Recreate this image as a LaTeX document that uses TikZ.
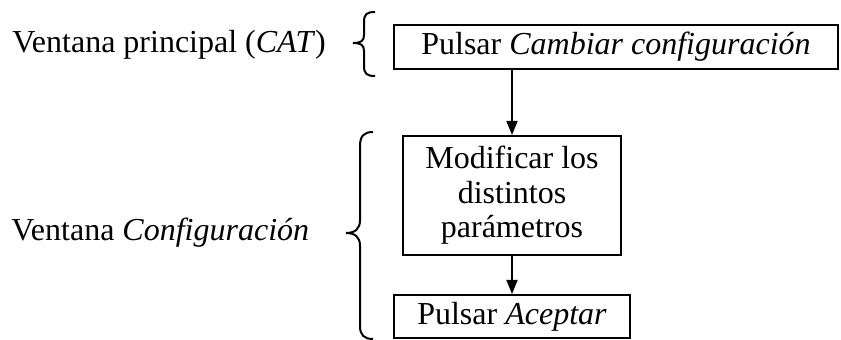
\documentclass[tikz,border=0pt]{standalone}
\usepackage{fontspec}
\setmainfont{Liberation Serif}
\usetikzlibrary{arrows.meta}
\begin{document}
\begin{tikzpicture}[x=0.5pt,y=-0.5pt,
  box/.style={draw,line width=1pt,inner sep=0pt,align=center,font=\fontsize{16}{17.25}\selectfont},
  lbl/.style={anchor=west,inner sep=0pt,font=\fontsize{16}{16}\selectfont},
  arr/.style={line width=0.8pt,-{Triangle[length=7pt,width=5.5pt]}},
  brc/.style={line width=1pt}]
\useasboundingbox (0,0) rectangle (841,340);
\node[box,minimum width=222pt,minimum height=22pt] (top) at (616,47) {Pulsar \textit{Cambiar configuración}};
\node[box,minimum width=109pt,minimum height=59.5pt] (mid) at (512,195.5) {Modificar los\\distintos\\parámetros};
\node[box,minimum width=118pt,minimum height=21.5pt] (bot) at (512,316.5) {Pulsar \textit{Aceptar}};
\draw[arr] (top.south -| mid.north) -- (mid.north);
\draw[arr] (mid.south) -- (bot.north);
\node[lbl] (l1) at (12,45) {Ventana principal (\textit{CAT})};
\node[lbl] (l2) at (11,233) {Ventana \textit{Configuración}};
\draw[brc] (375,12) .. controls (367,12) and (364,14) .. (364,22) -- (364,35)
  .. controls (364,41) and (361,43) .. (353,43)
  .. controls (361,43) and (364,45) .. (364,51) -- (364,66)
  .. controls (364,74) and (367,76) .. (375,76);
\draw[brc] (373,132) .. controls (364,132) and (360,136) .. (360,146) -- (360,220)
  .. controls (360,229) and (355,233) .. (346,233)
  .. controls (355,233) and (360,237) .. (360,246) -- (360,326)
  .. controls (360,335) and (364,339) .. (373,339);
\end{tikzpicture}
\end{document}
